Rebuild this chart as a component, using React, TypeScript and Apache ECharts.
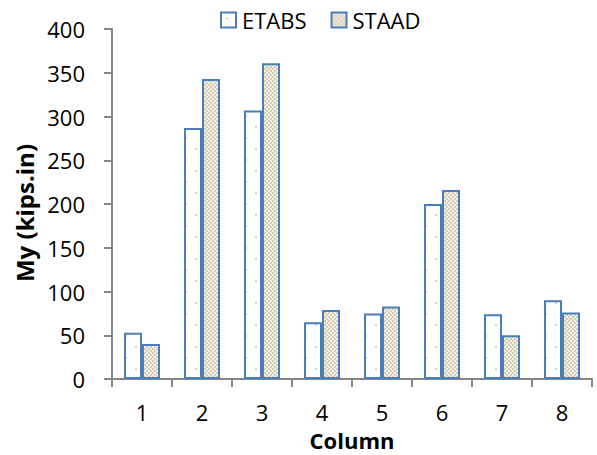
import React, { useEffect, useRef } from "react";
import * as echarts from "echarts";

const categories = ["1", "2", "3", "4", "5", "6", "7", "8"];
const etabs = [53, 287, 307, 65, 75, 200, 74, 90];
const staad = [40, 343, 361, 79, 83, 216, 50, 76];
const seriesNames = ["ETABS", "STAAD"];

function makeEtabsPattern(): string {
  const c = document.createElement("canvas");
  c.width = 20;
  c.height = 22;
  const ctx = c.getContext("2d")!;
  ctx.fillStyle = "#ffffff";
  ctx.fillRect(0, 0, 20, 22);
  ctx.fillStyle = "#d8d2b6";
  ctx.fillRect(5, 5, 2, 2);
  ctx.fillRect(15, 16, 2, 2);
  return c.toDataURL();
}

function makeStaadPattern(): string {
  const c = document.createElement("canvas");
  c.width = 4;
  c.height = 4;
  const ctx = c.getContext("2d")!;
  ctx.fillStyle = "#f1ede2";
  ctx.fillRect(0, 0, 4, 4);
  ctx.fillStyle = "#d6cfb4";
  ctx.fillRect(0, 0, 2, 2);
  ctx.fillRect(2, 2, 2, 2);
  return c.toDataURL();
}

export default function App() {
  const ref = useRef<HTMLDivElement>(null);
  useEffect(() => {
    if (!ref.current) return;
    const chart = echarts.init(ref.current, undefined, { renderer: "svg" });
    const font = "'Open Sans', 'Liberation Sans', sans-serif";
    const border = "#4a7ebb";
    chart.setOption({
      animation: false,
      textStyle: { fontFamily: font },
      legend: {
        data: seriesNames,
        top: 4,
        left: 215,
        itemWidth: 15,
        itemHeight: 15,
        itemGap: 24,
        icon: "rect",
        textStyle: { fontSize: 22, color: "#000", fontFamily: font, padding: [0, 0, 0, 1] },
      },
      grid: { left: 112, right: 5, top: 29, bottom: 76, outerBoundsMode: "none" },
      xAxis: {
        type: "category",
        data: categories,
        name: "Column",
        nameLocation: "middle",
        nameGap: 51,
        nameTextStyle: { fontSize: 22, lineHeight: 20, fontWeight: "bold", color: "#000", fontFamily: font },
        axisLine: { lineStyle: { color: "#868686", width: 2 } },
        axisTick: { show: true, length: 8, lineStyle: { color: "#868686", width: 2 } },
        axisLabel: { fontSize: 22, lineHeight: 18, color: "#000", margin: 24, fontFamily: font },
      },
      yAxis: {
        type: "value",
        min: 0,
        max: 400,
        interval: 50,
        name: "My (kips.in)",
        nameLocation: "middle",
        nameGap: 76,
        nameRotate: 90,
        nameTextStyle: { fontSize: 24, fontWeight: "bold", color: "#000", fontFamily: font, padding: [0, 18, 0, 0] },
        axisLine: { show: true, lineStyle: { color: "#868686", width: 2 } },
        axisTick: { show: true, length: 8, lineStyle: { color: "#868686", width: 2 } },
        axisLabel: { fontSize: 22, color: "#000", margin: 27, fontFamily: font },
        splitLine: { show: false },
      },
      series: [
        {
          name: seriesNames[0],
          type: "bar",
          data: etabs,
          barWidth: 18,
          barGap: "0%",
          itemStyle: {
            color: { image: makeEtabsPattern(), repeat: "repeat" },
            borderColor: border,
            borderWidth: 2,
          },
        },
        {
          name: seriesNames[1],
          type: "bar",
          data: staad,
          barWidth: 18,
          barGap: "0%",
          itemStyle: {
            color: { image: makeStaadPattern(), repeat: "repeat" },
            borderColor: border,
            borderWidth: 2,
          },
        },
      ],
    });
    return () => chart.dispose();
  }, []);
  return <div ref={ref} style={{ width: 597, height: 455, position: "absolute", left: 0, top: 0 }} />;
}
